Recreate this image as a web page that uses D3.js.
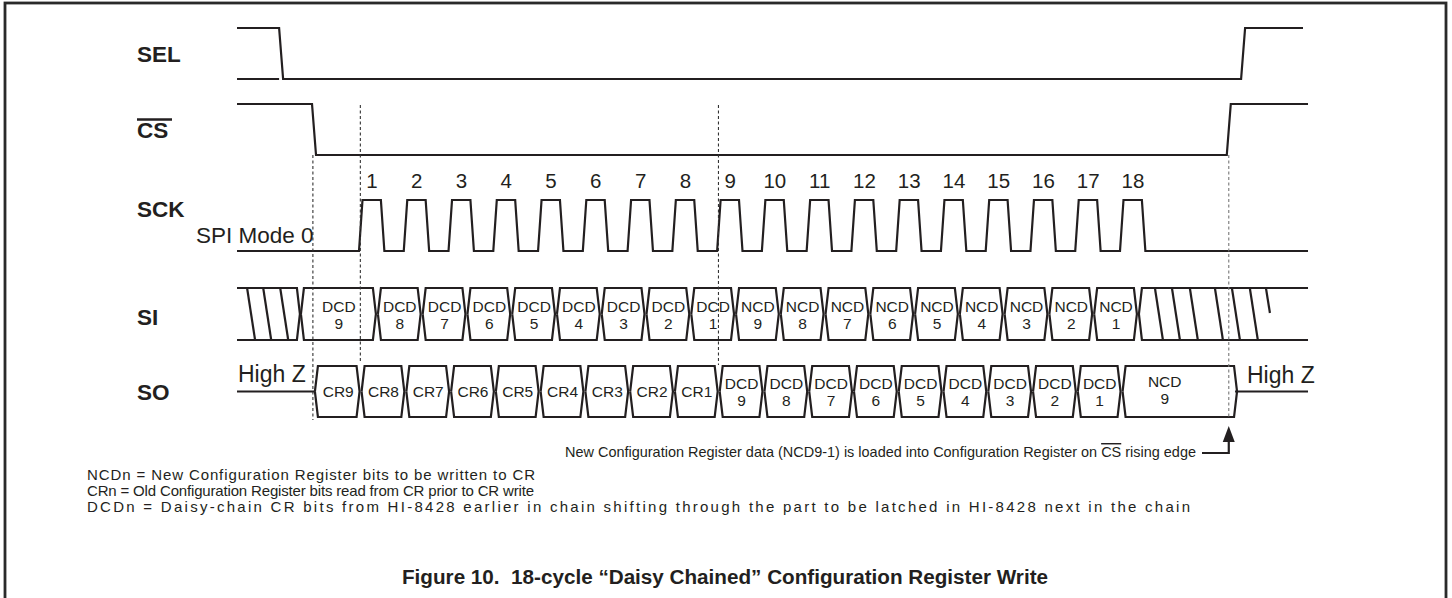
<!DOCTYPE html>
<html><head><meta charset="utf-8">
<script src="https://cdn.jsdelivr.net/npm/d3@7"></script>
<style>
body{margin:0;background:#fff;}
svg text{font-family:"Liberation Sans",Arial,Helvetica,sans-serif;fill:#231f20;}
</style></head>
<body><svg id="chart" width="1452" height="598"></svg>
<script>
// ---------------- data (time in SCK cycles; cycle 0 = rising edge of clock 1) ----------------
const signals = ["SEL", "CS", "SCK", "SI", "SO"];
const clockLabels = ["1","2","3","4","5","6","7","8","9","10","11","12","13","14","15","16","17","18"];
const clockRises = [0,1,2,3,4,5,6,7,8,9,10,11,12,13,14,15,16,17];
const timeSpan = [-2.725, 21.2];
const selEdges = [-1.74, 19.75];          // fall, rise
const csEdges = [-1.005, 19.43];          // fall, rise
const markerTimes = [-1.03, 0.03, 8.03, 19.43];
const siStart = -1.32;                     // end of leading don't-care
const siCrossings = [0.40,1.40,2.40,3.40,4.40,5.40,6.40,7.40,8.40,9.40,10.40,11.40,12.40,13.40,14.40,15.40,16.40,17.40];
const siLabels = [["DCD","9"],["DCD","8"],["DCD","7"],["DCD","6"],["DCD","5"],["DCD","4"],["DCD","3"],["DCD","2"],["DCD","1"],
                  ["NCD","9"],["NCD","8"],["NCD","7"],["NCD","6"],["NCD","5"],["NCD","4"],["NCD","3"],["NCD","2"],["NCD","1"]];
const siHatchLeft = [-2.50, -2.14, -1.76];
const siHatchRight = [17.78, 18.16, 18.56, 19.12, 19.50, 19.90];
const siHatchPartial = [20.26];
const soStart = -0.985;
const soCrossings = [0.035,1.035,2.035,3.035,4.035,5.035,6.035,7.035,8.035,9.035,10.035,11.035,12.035,13.035,14.035,15.035,16.035,17.035];
const soEnd = 19.57;
const soLabels = [["CR9"],["CR8"],["CR7"],["CR6"],["CR5"],["CR4"],["CR3"],["CR2"],["CR1"],
                  ["DCD","9"],["DCD","8"],["DCD","7"],["DCD","6"],["DCD","5"],["DCD","4"],["DCD","3"],["DCD","2"],["DCD","1"],["NCD","9"]];
const highZLabel = "High Z";
const modeLabel = "SPI Mode 0";
const noteText = ["New Configuration Register data (NCD9-1) is loaded into Configuration Register on ", "CS", " rising edge"];
const legendLines = [
  "NCDn = New Configuration Register bits to be written to CR",
  "CRn = Old Configuration Register bits read from CR prior to CR write",
  "DCDn = Daisy-chain CR bits from HI-8428 earlier in chain shifting through the part to be latched in HI-8428 next in the chain"
];
const titleText = "Figure 10.  18-cycle \u201CDaisy Chained\u201D Configuration Register Write";

// ---------------- layout ----------------
const svg = d3.select("#chart");
const ink = "#231f20";
const x = d3.scaleLinear().domain([0, 17]).range([359, 1120]);
const rowTop = d3.scaleOrdinal().domain(signals).range([28, 104, 200, 288, 366]);
const rowBot = d3.scaleOrdinal().domain(signals).range([79, 155, 251, 340, 417]);
const labelY = d3.scaleOrdinal().domain(signals).range([62, 138, 217, 325, 400]);
const line = d3.line();

// frame
svg.append("rect").attr("x", 5).attr("y", 3).attr("width", 1441).attr("height", 610)
  .attr("fill", "none").attr("stroke", "#2a2a2a").attr("stroke-width", 2.8);

// signal labels
signals.forEach(s => {
  svg.append("text").attr("x", 137).attr("y", labelY(s)).attr("font-weight", "bold")
    .attr("font-size", 22.5).text(s);
});
svg.append("line").attr("x1", 137).attr("x2", 172).attr("y1", 119.5).attr("y2", 119.5)
  .attr("stroke", ink).attr("stroke-width", 2.3);

const g = svg.append("g").attr("fill", "none").attr("stroke", ink).attr("stroke-width", 2.2)
  .attr("stroke-linejoin", "miter");

// marker dashed lines
const markerRanges = [[rowBot("CS"), rowBot("SO") + 3], [rowTop("CS") + 1, rowTop("SO") - 3],
                      [rowTop("CS") + 1, rowTop("SO") - 1], [rowBot("CS"), rowBot("SO")]];
markerTimes.forEach((t, i) => {
  svg.append("line").attr("x1", x(t)).attr("x2", x(t))
    .attr("y1", markerRanges[i][0]).attr("y2", markerRanges[i][1])
    .attr("stroke", i === 3 ? "#777" : "#333").attr("stroke-width", 1.1).attr("stroke-dasharray", "3,2.5");
});

const e = 2;
{
  const hi = rowTop("SEL"), lo = rowBot("SEL");
  const [f, r] = selEdges.map(x);
  g.append("path").attr("d", line([[x(timeSpan[0]), hi], [f - e, hi], [f + e, lo], [r - e, lo], [r + e, hi], [1303, hi]]));
  g.append("path").attr("d", line([[x(timeSpan[0]), lo], [f - e, lo]]));
}
{
  const hi = rowTop("CS"), lo = rowBot("CS");
  const [f, r] = csEdges.map(x);
  g.append("path").attr("d", line([[x(timeSpan[0]), hi], [f - e, hi], [f + e, lo], [r - e, lo], [r + e, hi], [x(timeSpan[1]), hi]]));
}
{
  const hi = rowTop("SCK"), lo = rowBot("SCK");
  const pts = [[x(timeSpan[0]), lo]];
  clockRises.forEach(t => {
    const r = x(t);
    const f = x(t + 0.5);
    pts.push([r, lo], [r + 3.5, hi], [f - 0.5, hi], [f + 3, lo]);
  });
  pts.push([x(timeSpan[1]), lo]);
  g.append("path").attr("d", line(pts));
  svg.append("g").selectAll("text").data(clockLabels).join("text")
    .attr("x", (d, i) => x(clockRises[i]) + 13).attr("y", 188).attr("text-anchor", "middle")
    .attr("font-size", 20.5).text(d => d);
  svg.append("text").attr("x", 196).attr("y", 243).attr("font-size", 22.5).text(modeLabel);
}

const gap = 1, dep = 3;
function cell(a, b, top, bot) {
  const mid = (top + bot) / 2;
  return [[a + gap, mid], [a + gap + dep, top], [b - gap - dep, top], [b - gap, mid], [b - gap - dep, bot], [a + gap + dep, bot], [a + gap, mid]];
}
function cellText(parent, lbl, cx, mid) {
  if (lbl.length === 1) {
    parent.append("text").attr("x", cx).attr("y", mid + 5.5).attr("text-anchor", "middle").attr("font-size", 15.5).text(lbl[0]);
  } else {
    parent.append("text").attr("x", cx).attr("y", mid - 2.5).attr("text-anchor", "middle").attr("font-size", 15.5).text(lbl[0]);
    parent.append("text").attr("x", cx).attr("y", mid + 14.5).attr("text-anchor", "middle").attr("font-size", 15.5).text(lbl[1]);
  }
}

// SI
{
  const top = rowTop("SI"), bot = rowBot("SI"), mid = (top + bot) / 2;
  const s0 = x(siStart);
  g.append("path").attr("d", line([[x(timeSpan[0]), top], [s0 - dep, top], [s0, mid], [s0 - dep, bot], [x(timeSpan[0]), bot]]));
  siHatchLeft.forEach(t => g.append("path").attr("d", line([[x(t), top], [x(t) + 8, bot]])));
  const bounds = [siStart].concat(siCrossings);
  const tg = svg.append("g");
  siLabels.forEach((lbl, i) => {
    const a = x(bounds[i]), b = x(bounds[i + 1]);
    g.append("path").attr("d", line(cell(a, b, top, bot)));
    cellText(tg, lbl, (a + b) / 2 + 0.5, mid);
  });
  const sl = x(siCrossings[siCrossings.length - 1]);
  g.append("path").attr("d", line([[x(timeSpan[1]), top], [sl + gap + dep, top], [sl + gap, mid], [sl + gap + dep, bot], [x(timeSpan[1]), bot]]));
  siHatchRight.forEach(t => g.append("path").attr("d", line([[x(t), top], [x(t) + 8, bot]])));
  siHatchPartial.forEach(t => g.append("path").attr("d", line([[x(t), top], [x(t) + 4, mid - 1]])));
}

// SO
{
  const top = rowTop("SO"), bot = rowBot("SO"), mid = (top + bot) / 2;
  const a0 = x(soStart), aN = x(soEnd);
  g.append("path").attr("d", line([[x(timeSpan[0]), mid], [a0, mid]]));
  g.append("path").attr("d", line([[aN, mid], [x(timeSpan[1]), mid]]));
  const bounds = [soStart].concat(soCrossings, [soEnd]);
  const tg = svg.append("g");
  soLabels.forEach((lbl, i) => {
    const a = x(bounds[i]), b = x(bounds[i + 1]);
    const first = i === 0, last = i === soLabels.length - 1;
    const pts = cell(first ? a - gap : a, last ? b + gap + 2 : b, top, bot);
    if (last) { pts[1][0] = a + gap + dep; pts[5][0] = a + gap + dep; }
    g.append("path").attr("d", line(pts));
    const cx = last ? a + (b - a) * 0.38 : (a + b) / 2 + 0.5;
    cellText(tg, lbl, cx, last ? mid - 2 : mid);
  });
  svg.append("text").attr("x", 238).attr("y", 382).attr("font-size", 23).text(highZLabel);
  svg.append("text").attr("x", 1247).attr("y", 383).attr("font-size", 23).text(highZLabel);
}

// annotation with arrow
{
  const t = svg.append("text").attr("x", 1196).attr("y", 457).attr("font-size", 14.5).attr("text-anchor", "end")
    .attr("textLength", 631).attr("lengthAdjust", "spacingAndGlyphs");
  t.append("tspan").text(noteText[0]);
  t.append("tspan").style("text-decoration", "overline").text(noteText[1]);
  t.append("tspan").text(noteText[2]);
  const xa = x(csEdges[1]);
  g.append("path").attr("d", line([[1202, 453], [xa, 453], [xa, 440]]));
  svg.append("path").attr("d", line([[xa, 426], [xa - 6, 442], [xa + 6, 442]]) + "Z").attr("fill", ink);
}

// legend: same glyph size on every line, spacing fitted to measured line widths
svg.append("g").selectAll("text").data(legendLines).join("text")
  .attr("x", 87).attr("y", (d, i) => 480 + i * 16).attr("font-size", 15)
  .attr("textLength", (d, i) => [448, 447, 1103][i]).attr("lengthAdjust", "spacing")
  .text(d => d);

// title
svg.append("text").attr("x", 725).attr("y", 584).attr("text-anchor", "middle").attr("font-weight", "bold")
  .attr("font-size", 20).style("white-space", "pre")
  .attr("textLength", 646).attr("lengthAdjust", "spacingAndGlyphs").text(titleText);
</script></body></html>
